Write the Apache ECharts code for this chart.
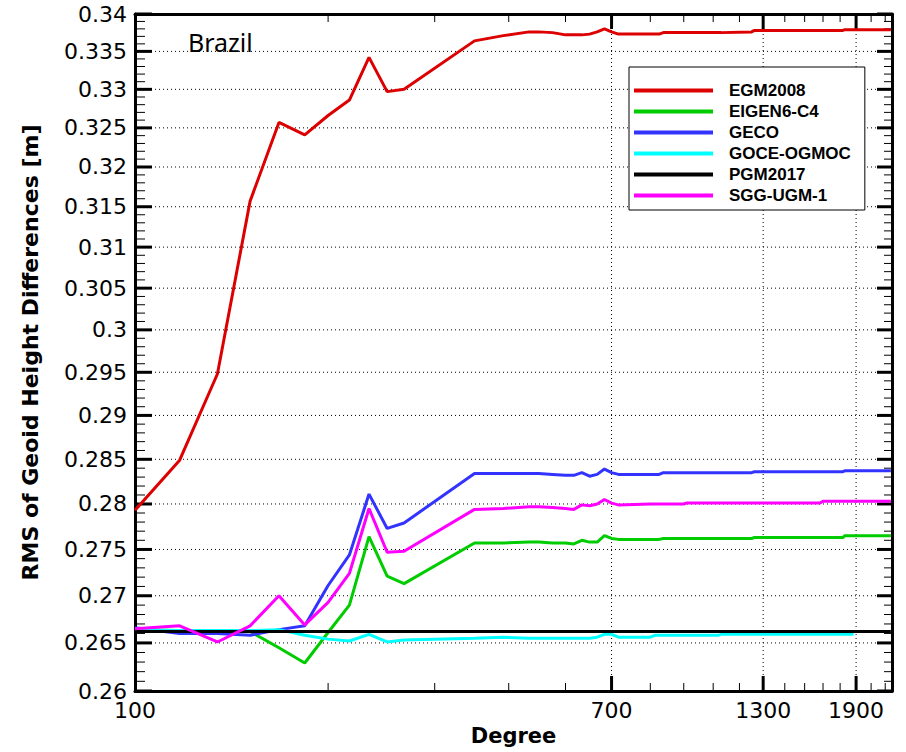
<!DOCTYPE html>
<html><head><meta charset="utf-8">
<script src="https://cdn.jsdelivr.net/npm/echarts@6/dist/echarts.min.js"></script>
<style>html,body{margin:0;padding:0;background:#fff}#c{width:906px;height:752px}</style>
</head><body><div id="c"></div>
<script>
// ---- data ----
const degrees = [100,120,140,160,180,200,220,240,260,280,300,400,450,500,520,550,580,600,620,640,660,680,700,720,820,835,850,865,940,950,1080,1095,1240,1255,1420,1440,1640,1660,1800,1815,1880,2190];
const seriesNames = ['EGM2008','EIGEN6-C4','GECO','GOCE-OGMOC','PGM2017','SGG-UGM-1'];
const egm2008 = [.2793,.2849,.2948,.3157,.3257,.3241,.3266,.3286,.3342,.3297,.3300,.3364,.3371,.3376,.3376,.3375,.3372,.3372,.3372,.3373,.3376,.3380,.3376,.3373,.3373,.3373,.3373,.3375,.3375,.3375,.3375,.3375,.3376,.3378,.3378,.3378,.3378,.3378,.3378,.3379,.3379,.3379];
const eigen6c4 = [.2664,.2663,.2663,.2662,.2645,.2629,.2661,.2690,.2764,.2721,.2713,.2757,.2757,.2758,.2758,.2757,.2757,.2756,.2760,.2758,.2758,.2765,.2762,.2761,.2761,.2761,.2761,.2762,.2762,.2762,.2762,.2762,.2762,.2763,.2763,.2763,.2763,.2763,.2763,.2765,.2765,.2765];
const geco = [.2666,.2660,.2660,.2658,.2664,.2668,.2711,.2744,.2811,.2773,.2779,.2834,.2834,.2834,.2834,.2833,.2832,.2832,.2835,.2831,.2833,.2839,.2835,.2833,.2833,.2833,.2833,.2835,.2835,.2835,.2835,.2835,.2835,.2836,.2836,.2836,.2836,.2836,.2836,.2837,.2837,.2837];
const goceOgmoc = [.2663,.2663,.2663,.2663,.2664,.2658,.2654,.2652,.2659,.2651,.2653,.2655,.2656,.2655,.2655,.2655,.2655,.2655,.2655,.2655,.2656,.2659,.2659,.2656,.2656,.2658,.2658,.2658,.2658,.2658,.2658,.2659,.2659,.2659,.2659,.2659,.2659,.2659,.2659,.2659,.2659,null];
const pgm2017 = [.2662,.2662,.2662,.2662,.2662,.2662,.2662,.2662,.2662,.2662,.2662,.2662,.2662,.2662,.2662,.2662,.2662,.2662,.2662,.2662,.2662,.2662,.2662,.2662,.2662,.2662,.2662,.2662,.2662,.2662,.2662,.2662,.2662,.2662,.2662,.2662,.2662,.2662,.2662,.2662,.2662,.2662];
const sggUgm1 = [.2665,.2668,.2651,.2668,.2700,.2669,.2693,.2724,.2795,.2747,.2748,.2794,.2795,.2797,.2797,.2796,.2795,.2794,.2799,.2798,.2800,.2805,.2801,.2799,.2800,.2800,.2800,.2800,.2800,.2801,.2801,.2801,.2801,.2801,.2801,.2801,.2801,.2803,.2803,.2803,.2803,.2803];
const seriesColors = ['#dd0000','#00cc00','#3333ff','#00ffff','#000000','#ff00ff'];

// ---- axis ticks / labels ----
const xLabels = [100,700,1300,1900];
const xMajor = [700,1300,1900];
const xMinor = [220,340,460,580,820,940,1060,1180,1420,1540,1660,1780,2020,2140];
const yMajor = [0.26,0.265,0.27,0.275,0.28,0.285,0.29,0.295,0.3,0.305,0.31,0.315,0.32,0.325,0.33,0.335,0.34];
const yLabels = ['0.26','0.265','0.27','0.275','0.28','0.285','0.29','0.295','0.3','0.305','0.31','0.315','0.32','0.325','0.33','0.335','0.34'];
const yMinor = [];
for (let k = 261; k < 340; k++) { if (k % 5 !== 0) yMinor.push(k / 1000); }

const X_MIN = 100, X_MAX = 2200, Y_MIN = 0.26, Y_MAX = 0.34;
const axisLineStyle = {show:true, onZero:false, lineStyle:{color:'#000', width:3}};

const xAxes = [
  {type:'log', min:X_MIN, max:X_MAX, position:'bottom',
   axisLine:axisLineStyle, axisTick:{show:false}, splitLine:{show:false}, axisLabel:{show:false},
   name:'Degree', nameLocation:'middle', nameGap:34,
   nameTextStyle:{color:'#000', fontFamily:'DejaVu Sans', fontWeight:'bold', fontSize:21}},
  {type:'log', min:X_MIN, max:X_MAX, position:'top',
   axisLine:axisLineStyle, axisTick:{show:false}, splitLine:{show:false}, axisLabel:{show:false}}
];
const yAxes = [
  {type:'log', min:Y_MIN, max:Y_MAX, position:'left',
   axisLine:axisLineStyle, axisTick:{show:false}, splitLine:{show:false}, axisLabel:{show:false},
   name:'RMS of Geoid Height Differences [m]', nameLocation:'middle', nameGap:94,
   nameTextStyle:{color:'#000', fontFamily:'DejaVu Sans', fontWeight:'bold', fontSize:22}},
  {type:'log', min:Y_MIN, max:Y_MAX, position:'right',
   axisLine:axisLineStyle, axisTick:{show:false}, splitLine:{show:false}, axisLabel:{show:false}}
];

const valueSets = [egm2008, eigen6c4, geco, goceOgmoc, pgm2017, sggUgm1];
const lineSeries = seriesNames.map((name, s) => ({
  name: name, type:'line', xAxisIndex:0, yAxisIndex:0,
  showSymbol:false, symbol:'none', color: seriesColors[s],
  lineStyle:{width:3, color: seriesColors[s]},
  data: degrees.map((d, i) => [d, valueSets[s][i]])
}));

const chart = echarts.init(document.getElementById('c'), null, {renderer:'svg', width:906, height:752});
chart.setOption({
  animation:false,
  backgroundColor:'#fff',
  grid:{left:135, right:14, top:14, bottom:61, containLabel:false, outerBoundsMode:'none'},
  xAxis: xAxes,
  yAxis: yAxes,
  legend:{
    orient:'vertical', left:629, top:67, padding:[15,14,6,5], itemGap:4,
    itemWidth:79, itemHeight:4, icon:'rect',
    backgroundColor:'#fff', borderColor:'#000', borderWidth:1, borderRadius:0,
    textStyle:{fontFamily:'Liberation Sans', fontWeight:'bold', fontSize:17, color:'#000', lineHeight:17, padding:[0,0,0,11]},
    data: seriesNames
  },
  series: lineSeries
});

// grid lines, ticks and tick labels, positioned through the chart's own axis scales
function px(x, y) { return chart.convertToPixel({xAxisIndex:0, yAxisIndex:0}, [x, y]); }
function seg(p, q, w, dash) {
  const st = {stroke:'#000', lineWidth:w};
  if (dash) st.lineDash = dash;
  return {type:'line', shape:{x1:p[0], y1:p[1], x2:q[0], y2:q[1]}, style:st};
}
function label(p, text, align, vAlign) {
  return {type:'text', x:p[0], y:p[1],
    style:{text:text, fontFamily:'DejaVu Sans', fontSize:22, fill:'#000', align:align, verticalAlign:vAlign}};
}
const els = [];
xMajor.forEach(d => els.push(seg(px(d, Y_MIN), px(d, Y_MAX), 1, [1,3])));
yMajor.forEach(v => els.push(seg(px(X_MIN, v), px(X_MAX, v), 1, [1,3])));
xMajor.concat(xMinor).forEach(d => {
  const major = xMajor.indexOf(d) >= 0, len = major ? 15 : 8, w = major ? 3 : 1;
  const b = px(d, Y_MIN), t = px(d, Y_MAX);
  els.push(seg(b, [b[0], b[1] - len], w));
  els.push(seg(t, [t[0], t[1] + len], w));
});
yMajor.concat(yMinor).forEach(v => {
  const major = yMajor.indexOf(v) >= 0;
  const l = px(X_MIN, v), r = px(X_MAX, v);
  els.push(seg(l, [l[0] + (major ? 17 : 10), l[1]], major ? 3 : 1));
  els.push(seg(r, [r[0] - (major ? 15 : 8), r[1]], major ? 3 : 1));
});
xLabels.forEach(d => {
  const p = px(d, Y_MIN);
  els.push(label([p[0], p[1] + 8], String(d), 'center', 'top'));
});
yMajor.forEach((v, i) => {
  const p = px(X_MIN, v);
  els.push(label([p[0] - 8, p[1]], yLabels[i], 'right', 'middle'));
});
els.push({type:'text', left:188, top:29,
  style:{text:'Brazil', fontFamily:'Noto Sans', fontSize:25, fill:'#000'}});
chart.setOption({graphic: els});
</script>
</body></html>
